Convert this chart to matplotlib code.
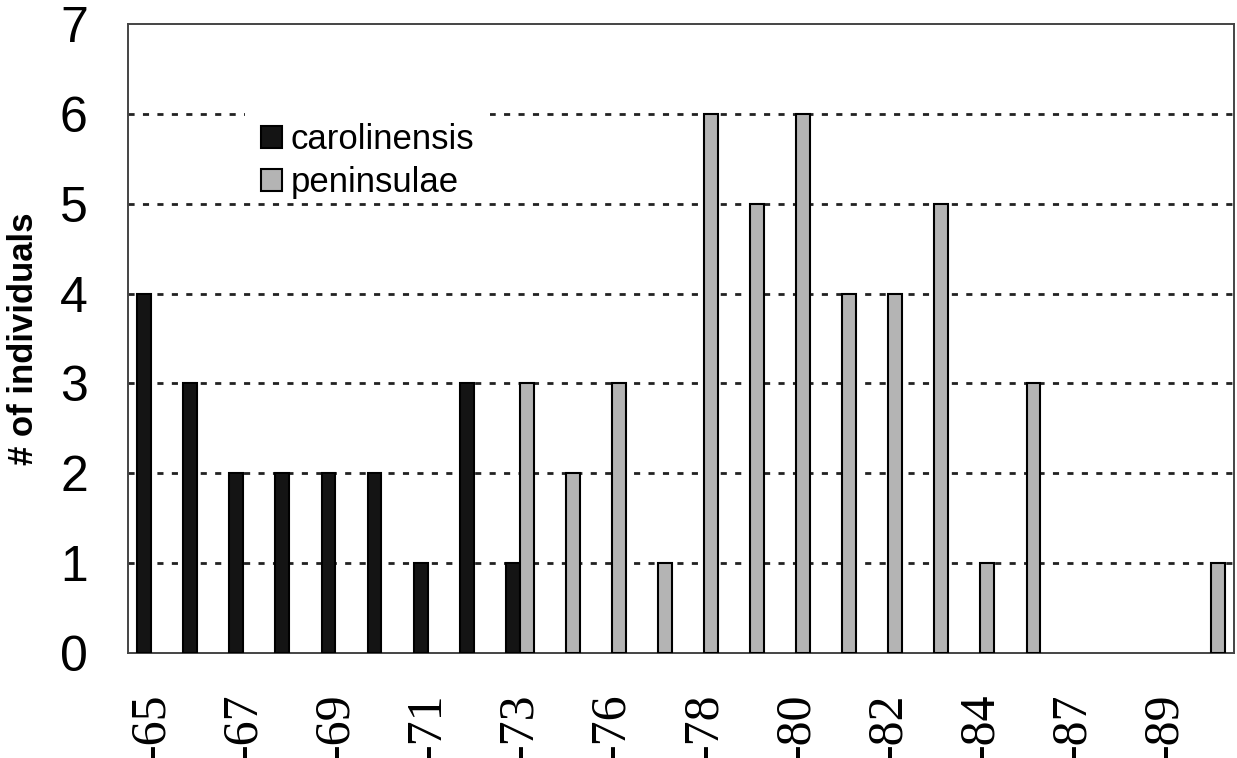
import numpy as np
import matplotlib
matplotlib.use('Agg')
import matplotlib.pyplot as plt
import matplotlib.transforms as mtransforms
from matplotlib.patches import Rectangle

# bins of the measured value (only every other one is labelled on the axis)
categories = ['-65', '-66', '-67', '-68', '-69', '-70', '-71', '-72', '-73', '-74',
              '-76', '-77', '-78', '-79', '-80', '-81', '-82', '-83', '-84', '-85',
              '-87', '-88', '-89', '-90']
carolinensis = [4, 3, 2, 2, 2, 2, 1, 3, 1, 0,
                0, 0, 0, 0, 0, 0, 0, 0, 0, 0,
                0, 0, 0, 0]
peninsulae = [0, 0, 0, 0, 0, 0, 0, 0, 3, 2,
              3, 1, 6, 5, 6, 4, 4, 5, 1, 3,
              0, 0, 0, 1]

fig = plt.figure(figsize=(12.37, 7.58), dpi=100)
ax = fig.add_axes([0.1035, 0.1385, 0.894, 0.8298])

x = np.arange(len(categories))
bar_w = 0.3

car = np.array(carolinensis, dtype=float)
pen = np.array(peninsulae, dtype=float)

# Excel style: zero bars are not drawn
ax.bar(x[car > 0] - bar_w / 2, car[car > 0], width=bar_w, color='#141414',
       edgecolor='black', linewidth=1.5, label='carolinensis', zorder=3)
ax.bar(x[pen > 0] + bar_w / 2, pen[pen > 0], width=bar_w, color='#b4b4b4',
       edgecolor='black', linewidth=1.5, label='peninsulae', zorder=3)

ax.set_xlim(-0.5, len(categories) - 0.5)
ax.set_ylim(0, 7)
ax.set_yticks(range(0, 8))
ax.set_yticklabels([str(v) for v in range(0, 8)], fontsize=36, family='Liberation Sans')

ax.set_xticks(x[::2])
ax.set_xticklabels(categories[::2], rotation=90, fontsize=36, family='Liberation Serif')
shift = mtransforms.ScaledTranslation(4 / 100, 0, fig.dpi_scale_trans)
for lab in ax.get_xticklabels():
    lab.set_transform(lab.get_transform() + shift)

ax.tick_params(axis='both', length=0)
ax.tick_params(axis='y', pad=29)
ax.tick_params(axis='x', pad=29)

for s in ax.spines.values():
    s.set_color('#444444')
    s.set_linewidth(1.4)

ax.yaxis.grid(True, color='#222222', linewidth=2.0, linestyle=(0, (2.2, 3.0)))
ax.set_axisbelow(True)
gl = ax.get_ygridlines()
gl[0].set_visible(False)
gl[-1].set_visible(False)

ax.set_ylabel('# of individuals', fontsize=25, fontweight='bold', family='Liberation Sans')
ax.yaxis.set_label_coords(-0.08, 0.5)

# white patch behind the legend, hides part of the top gridline as in Excel
ax.add_patch(Rectangle((0.106, 0.722), 0.221, 0.142, transform=ax.transAxes,
                       facecolor='white', edgecolor='none', zorder=1))

leg = ax.legend(loc='upper left', bbox_to_anchor=(0.109, 0.862), fontsize=25,
                prop={'family': 'Liberation Sans', 'size': 25},
                frameon=False, handlelength=0.6, handleheight=0.6,
                handletextpad=0.25, labelspacing=0.3, borderpad=0.35,
                borderaxespad=0)
leg.set_zorder(5)

fig.savefig('out.png', dpi=100)
